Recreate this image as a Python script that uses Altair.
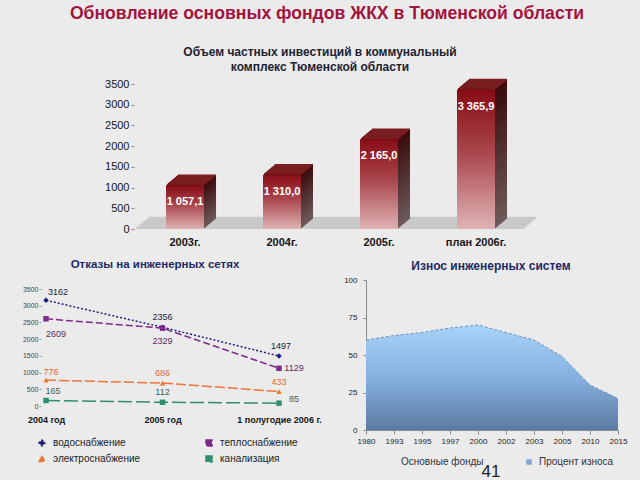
import altair as alt
import pandas as pd

# ------------------------------------------------------------------ data
inv_years = ["2003г.", "2004г.", "2005г.", "план 2006г."]
inv_values = [1057.1, 1310.0, 2165.0, 3365.9]
inv_labels = ["1 057,1", "1 310,0", "2 165,0", "3 365,9"]
inv_ticks = [0, 500, 1000, 1500, 2000, 2500, 3000, 3500]

fail_periods = ["2004 год", "2005 год", "1 полугодие 2006 г."]
fail_series = ["водоснабжение", "теплоснабжение", "электроснабжение", "канализация"]
fail_water = [3162, 2356, 1497]
fail_heat = [2609, 2329, 1129]
fail_power = [776, 686, 433]
fail_sewer = [165, 112, 85]
fail_ticks = [0, 500, 1000, 1500, 2000, 2500, 3000, 3500]

wear_years = ["1980", "1993", "1995", "1997", "2000", "2002", "2003", "2005", "2010", "2015"]
wear_values = [60, 63, 65, 68, 70, 65, 60, 49, 30, 21]
wear_ticks = [0, 25, 50, 75, 100]
wear_legend = ["Основные фонды", "Процент износа"]

main_title = "Обновление основных фондов ЖКХ в Тюменской области"
inv_title = ["Объем частных инвестиций в коммунальный", "комплекс Тюменской области"]
fail_title = "Отказы на инженерных сетях"
wear_title = "Износ инженерных систем"
page_number = "41"

# ------------------------------------------------------------------ layout / style
FONT = "Liberation Sans"
PAD_TOP = 30
W, H = 640, 450


def py(y):
    return y - PAD_TOP


def vgrad(stops):
    return alt.Gradient(
        gradient="linear",
        stops=[alt.GradientStop(color=c, offset=o) for o, c in stops],
        x1=0, x2=0, y1=0, y2=1,
    )


# ------------------------------------------------------------------ top: 3D bars
inv_df = pd.DataFrame({"year": inv_years, "v": inv_values, "label": inv_labels})

x_inv = alt.X(
    "year:N", sort=inv_years, title=None,
    scale=alt.Scale(domain=inv_years, range=[136.5, 524.5], paddingInner=0.608, paddingOuter=0.304),
    axis=alt.Axis(orient="bottom", offset=py(229) - H, domain=False, ticks=False, labelAngle=0,
                  labelPadding=7, labelFontSize=11, labelFontWeight="bold", labelColor="#151515",
                  labelFont=FONT),
)


def y_inv(field):
    return alt.Y(
        field, title=None,
        scale=alt.Scale(domain=[0, 3500], range=[py(229), py(84)], nice=False),
        axis=alt.Axis(orient="left", offset=-134, values=inv_ticks, format="d", domain=False,
                      ticks=True, tickSize=3, tickColor="#888", labelPadding=2, labelFontSize=11,
                      labelColor="#151515", labelFont=FONT, grid=False),
    )


front_grad = vgrad([(0, "#880c15"), (0.45, "#a9464d"), (1, "#dfb3b5")])
side_grad = vgrad([(0, "#3a0a0c"), (1, "#6e5b5b")])
cap_color = "#7a1e22"

base = alt.Chart(inv_df).transform_calculate(zero="0")
inv_layers = []
for k in range(6):
    inv_layers.append(
        base.mark_bar(fill="#c9c9c9", width=alt.RelativeBandSize(band=97 / 38),
                      xOffset=2.4 * k, yOffset=-2 * k - 2.2, y2Offset=-2 * k)
        .encode(x=x_inv, y=y_inv("zero:Q"), y2=alt.Y2("zero:Q"))
    )
steps = [(1.0 * k, 0.8333 * k) for k in range(12, 0, -1)]
for dx, dy in steps:
    inv_layers.append(
        base.mark_bar(fill=side_grad, xOffset=dx, yOffset=-dy, y2Offset=-dy)
        .encode(x=x_inv, y=y_inv("v:Q"), y2=alt.Y2("zero:Q"))
    )
for dx, dy in steps:
    inv_layers.append(
        base.mark_bar(fill=cap_color, xOffset=dx, yOffset=-dy - 0.7, y2Offset=-dy + 0.7)
        .encode(x=x_inv, y=y_inv("v:Q"), y2=alt.Y2("v:Q"))
    )
inv_layers.append(base.mark_bar(fill=front_grad).encode(x=x_inv, y=y_inv("v:Q"), y2=alt.Y2("zero:Q")))
inv_layers.append(
    base.mark_text(color="white", fontWeight="bold", fontSize=11, font=FONT, dy=17)
    .encode(x=x_inv, y=y_inv("v:Q"), text="label:N")
)
inv_chart = alt.layer(*inv_layers)

# ------------------------------------------------------------------ bottom left: lines
fail_rows = []
for s, vals in zip(fail_series, [fail_water, fail_heat, fail_power, fail_sewer]):
    for i, p in enumerate(fail_periods):
        fail_rows.append({"period": p, "series": s, "value": vals[i], "idx": i, "lab": str(vals[i])})
fail_df = pd.DataFrame(fail_rows)

x_fail = alt.X(
    "period:N", sort=fail_periods, title=None,
    scale=alt.Scale(type="point", domain=fail_periods, range=[46, 279], padding=0),
    axis=alt.Axis(orient="bottom", offset=py(406) - H, domain=False, ticks=False, labelAngle=0,
                  labelPadding=9, labelFontSize=9, labelFontWeight="bold", labelColor="#151515",
                  labelFont=FONT),
)
y_fail = alt.Y(
    "value:Q", title=None,
    scale=alt.Scale(domain=[0, 3500], range=[py(406), py(289)], nice=False),
    axis=alt.Axis(orient="left", offset=-41, values=fail_ticks, format="d", domain=False, ticks=True,
                  tickSize=2, tickColor="#999", labelPadding=1, labelFontSize=7, labelColor="#444",
                  labelFont=FONT, grid=False),
)
fail_colors = ["#1f1f7a", "#7d2a8a", "#ec7533", "#2f8f6f"]
fail_legend = alt.Legend(orient="none", legendX=37, legendY=py(438), direction="horizontal", columns=2,
                         columnPadding=62, rowPadding=4, labelFontSize=10, labelColor="#222",
                         labelFont=FONT, symbolSize=36, labelOffset=6, title=None)
c_fail = alt.Color("series:N", scale=alt.Scale(domain=fail_series, range=fail_colors), legend=fail_legend)
sh_fail = alt.Shape("series:N", scale=alt.Scale(domain=fail_series,
                                                range=["diamond", "square", "triangle-up", "square"]),
                    legend=fail_legend)
d_fail = alt.StrokeDash("series:N", scale=alt.Scale(domain=fail_series,
                                                    range=[[2, 2], [7, 3], [10, 3], [14, 4]]), legend=None)

fail_layers = [
    alt.Chart(fail_df).mark_line(strokeWidth=1.5).encode(x=x_fail, y=y_fail, color=c_fail, strokeDash=d_fail),
    alt.Chart(fail_df).mark_point(filled=True, size=30, opacity=1).encode(x=x_fail, y=y_fail, color=c_fail, shape=sh_fail),
]
label_style = {
    "водоснабжение": ("#1c1c3c", [(12, -8), (0, -10), (2, -10)]),
    "теплоснабжение": ("#5a2a5a", [(10, 15), (0, 13), (15, 0)]),
    "электроснабжение": ("#e06a30", [(5, -8), (0, -10), (0, -10)]),
    "канализация": ("#3d5f55", [(7, -9), (0, -10), (15, -4)]),
}
for s in fail_series:
    col, offs = label_style[s]
    for i, (dx, dy) in enumerate(offs):
        fail_layers.append(
            alt.Chart(fail_df)
            .transform_filter(f"datum.series == '{s}' && datum.idx == {i}")
            .mark_text(dx=dx, dy=dy, fontSize=9, color=col, font=FONT)
            .encode(x=x_fail, y=y_fail, text="lab:N")
        )
fail_chart = alt.layer(*fail_layers)

# ------------------------------------------------------------------ bottom right: area
wear_df = pd.DataFrame({"year": wear_years, "v": wear_values})
x_wear = alt.X(
    "year:N", sort=wear_years, title=None,
    scale=alt.Scale(type="point", domain=wear_years, range=[366, 618], padding=0),
    axis=alt.Axis(orient="bottom", offset=py(430) - H, domain=True, domainColor="#8a8a8a", ticks=True,
                  tickSize=4, tickColor="#8a8a8a", labelAngle=0, labelPadding=3, labelFontSize=8,
                  labelColor="#222", labelFont=FONT),
)
y_wear = alt.Y(
    "v:Q", title=None,
    scale=alt.Scale(domain=[0, 100], range=[py(430), py(280)], nice=False),
    axis=alt.Axis(orient="left", offset=-366, values=wear_ticks, domain=True, domainColor="#8a8a8a",
                  ticks=True, tickSize=3, tickColor="#8a8a8a", labelPadding=6, labelFontSize=8,
                  labelColor="#222", labelFont=FONT, grid=False),
)
wear_grad = vgrad([(0, "#a7d2f8"), (0.5, "#86b1e0"), (1, "#5b7aa1")])
wear_leg_df = pd.DataFrame({"name": wear_legend, "year": [wear_years[0]] * 2, "v": [0, 0]})
wear_chart = alt.layer(
    alt.Chart(wear_df).mark_area(fill=wear_grad).encode(x=x_wear, y=y_wear),
    alt.Chart(wear_df).mark_line(color="#6f91bb", strokeWidth=1, strokeDash=[3, 2]).encode(x=x_wear, y=y_wear),
    alt.Chart(wear_leg_df).mark_square(opacity=0, size=1).encode(
        x=x_wear, y=y_wear,
        color=alt.Color("name:N", scale=alt.Scale(domain=wear_legend, range=["rgba(0,0,0,0)", "#7ea7d8"]),
                        legend=alt.Legend(orient="none", legendX=386, legendY=py(457), direction="horizontal",
                                          columnPadding=40, labelFontSize=10, labelColor="#333", labelFont=FONT,
                                          symbolSize=30, symbolOpacity=1, symbolStrokeWidth=0, labelOffset=5,
                                          title=None)),
    ),
)


# ------------------------------------------------------------------ texts
def note(text, x, y, size, color, weight="normal", baseline="middle", line_height=None):
    mk = dict(text=text, fontSize=size, color=color, fontWeight=weight, font=FONT, align="center",
              baseline=baseline)
    if line_height:
        mk["lineHeight"] = line_height
    return alt.Chart(alt.Data(values=[{}])).mark_text(**mk).encode(x=alt.value(x), y=alt.value(py(y)))


texts = [
    note(inv_title, 320, 56, 12, "#1d2333", "bold", baseline="alphabetic", line_height=15),
    note(fail_title, 155, 265, 11.5, "#1c2a66", "bold"),
    note(wear_title, 491, 266, 12, "#1c2a66", "bold"),
    note(page_number, 491, 472, 17, "#222"),
]

chart = (
    alt.layer(inv_chart, fail_chart, wear_chart, *texts)
    .resolve_scale(x="independent", y="independent", color="independent", shape="independent",
                   strokeDash="independent")
    .properties(
        width=W, height=H,
        autosize=alt.AutoSizeParams(type="none"),
        padding={"left": 0, "right": 0, "top": PAD_TOP, "bottom": 0},
        background="#ebebeb",
        title=alt.TitleParams(main_title, anchor="middle", fontSize=17.6, font=FONT, fontWeight="bold",
                              color="#a3133d", offset=7, dx=7),
    )
    .configure_view(stroke=None)
)

chart.save("out.html", embed_options={"renderer": "svg", "actions": False})
